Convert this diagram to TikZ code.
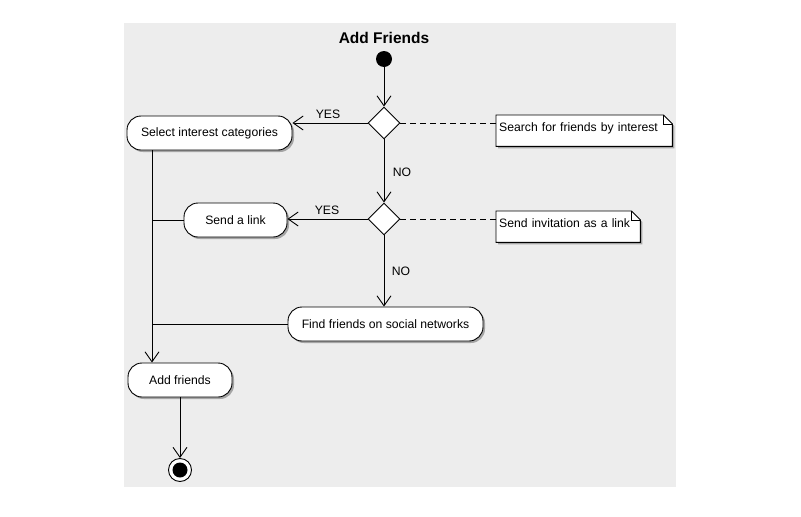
\documentclass[tikz,border=0pt]{standalone}
\usepackage{fontspec}
\setmainfont{Liberation Sans}
\usetikzlibrary{arrows.meta,shapes.geometric,shadows}
\pgfdeclarelayer{bglayer}
\pgfdeclarelayer{notelayer}
\pgfsetlayers{bglayer,notelayer,main}
\begin{document}
\begin{tikzpicture}[x=1pt,y=-1pt,
  base/.style={font=\fontsize{12.2}{14}\selectfont},
  act/.style={base, draw, fill=white, rounded corners=14pt, minimum height=34pt,
    inner sep=0pt, line width=0.9pt,
    drop shadow={shadow xshift=2pt, shadow yshift=-2pt, fill=black, opacity=0.3}},
  dec/.style={diamond, draw, fill=white, minimum width=32pt, minimum height=32pt,
    inner sep=0pt, line width=0.9pt},
  lbl/.style={base, inner sep=0pt},
  notetext/.style={base, anchor=north west, inner xsep=3pt, inner ysep=0pt,
    text height=16pt, text depth=15pt, align=left},
  notebox/.style={draw, fill=white, line width=0.9pt},
  noteshadow/.style={fill=black, opacity=0.3},
  arr/.style={line width=0.9pt, -{Straight Barb[length=10pt,width=14pt,line width=0.9pt]}},
  ln/.style={line width=0.9pt},
  dsh/.style={line width=0.9pt, dash pattern=on 6pt off 4pt}
]
\useasboundingbox (0,0) rectangle (801,517);
\begin{pgfonlayer}{bglayer}
\fill[white] (0,0) rectangle (801,517);
\fill[black!7] (124,23) rectangle (676,487);
\end{pgfonlayer}

% title
\node[font=\fontsize{15.5}{18}\selectfont\bfseries] (title) at (384,38) {Add Friends};

% start
\node[circle, fill=black, minimum size=16pt, inner sep=0pt] (start) at (384,59) {};

% decisions
\node[dec] (d1) at (384,123) {};
\node[dec] (d2) at (384,219) {};

% activities
\node[act, minimum width=165pt] (sel) at (209.5,133) {Select interest categories};
\node[act, minimum width=103pt] (send) at (235.5,220) {Send a link};
\node[act, minimum width=195pt] (find) at (385.5,324) {Find friends on social networks};
\node[act, minimum width=104pt] (add) at (180,380) {Add friends};

% end
\node[circle, draw, fill=white, line width=0.9pt, minimum size=23pt, inner sep=0pt] (end) at (180,470) {};
\node[circle, fill=black, minimum size=15pt, inner sep=0pt] (endin) at (180,470) {};

% notes
\node[notetext, text width=170pt] (n1) at (496,115) {Search for friends by interest};
\node[notetext, text width=138pt] (n2) at (496,211) {Send invitation as a link};
\begin{pgfonlayer}{notelayer}
\foreach \n in {n1,n2}{
  \fill[noteshadow] ([shift={(2pt,-2pt)}]\n.north west) -- ([shift={(-7pt,-2pt)}]\n.north east)
    -- ([shift={(2pt,-11pt)}]\n.north east) -- ([shift={(2pt,-2pt)}]\n.south east)
    -- ([shift={(2pt,-2pt)}]\n.south west) -- cycle;
  \draw[notebox] (\n.north west) -- ([xshift=-9pt]\n.north east) -- ([yshift=-9pt]\n.north east)
    -- (\n.south east) -- (\n.south west) -- cycle;
  \draw[ln] ([xshift=-9pt]\n.north east) -- ([shift={(-9pt,-9pt)}]\n.north east) -- ([yshift=-9pt]\n.north east);
}
\end{pgfonlayer}

% column coordinate
\coordinate (colx) at (152,0);

% connectors
\draw[arr] (start) -- (d1.north);
\draw[arr] (d1.west) -- (d1.west -| sel.east);
\draw[arr] (d1.south) -- (d2.north);
\draw[arr] (d2.west) -- (d2.west -| send.east);
\draw[arr] (d2.south) -- (d2.south |- find.north);
\draw[dsh] (d1.east) -- (d1.east -| n1.west);
\draw[dsh] (d2.east) -- (d2.east -| n2.west);
\draw[ln] (send.west) -- (send.west -| colx);
\draw[ln] (find.west) -- (find.west -| colx);
\draw[arr] (colx |- sel.south) -- (colx |- add.north);
\draw[arr] (add.south) -- (end.north);

% labels
\node[lbl] (yes1) at (328,114) {YES};
\node[lbl] (no1) at (402,172) {NO};
\node[lbl] (yes2) at (327,210) {YES};
\node[lbl] (no2) at (401,271) {NO};
\end{tikzpicture}
\end{document}
